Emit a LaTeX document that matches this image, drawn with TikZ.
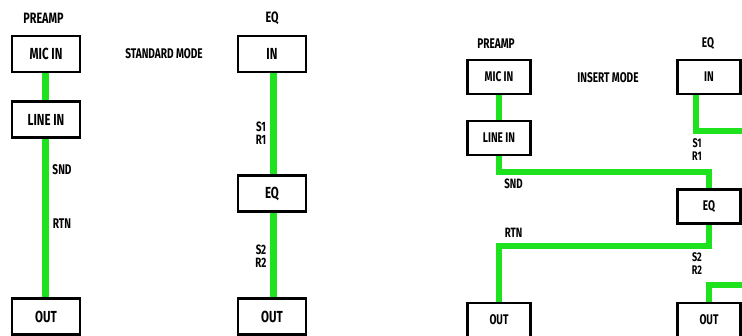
\documentclass[tikz,border=0pt]{standalone}
\usepackage{fontspec}
\setmainfont{Fira Sans}[FakeStretch=0.72]
\usetikzlibrary{calc,backgrounds}
\definecolor{cable}{RGB}{30,226,30}

\begin{document}
\begin{tikzpicture}[x=1pt,y=-1pt,
    box/.style={draw,line width=2.5pt,fill=white,inner sep=0pt,
                font=\bfseries\fontsize{#1}{#1}\selectfont},
    boxA/.style={box=16,minimum width=68pt,minimum height=36pt},
    boxB/.style={box=14,minimum width=63pt,minimum height=34pt},
    lbl/.style={inner sep=0pt,align=center,font=\bfseries\fontsize{#1}{13}\selectfont},
    wireA/.style={cable,line width=7pt},
    wireB/.style={cable,line width=6pt}]
  \useasboundingbox (0,0) rectangle (742,336);

  % standard mode
  \node[lbl=15] (preampA) at (43.5,18) {PREAMP};
  \node[lbl=15] (eqtitleA) at (272,18) {EQ};
  \node[lbl=14] (modeA) at (164,54) {STANDARD MODE};
  \node[lbl=14] (sndA) at (62,170) {SND};
  \node[lbl=14] (rtnA) at (62,224) {RTN};
  \node[lbl=13.5] (sraA) at (261,133) {S1\\R1};
  \node[lbl=13.5] (srbA) at (261,256.5) {S2\\R2};
  \node[boxA] (micA) at (46,54) {MIC IN};
  \node[boxA] (lineA) at (46,119.5) {LINE IN};
  \node[boxA] (outA) at (46,316.5) {OUT};
  \node[boxA] (eqinA) at (272,54) {IN};
  \node[boxA] (eqA) at (272,193.5) {EQ};
  \node[boxA] (eqoutA) at (272,316.5) {OUT};

  % insert mode
  \node[lbl=14] (preampB) at (496,44) {PREAMP};
  \node[lbl=14] (eqtitleB) at (708,44) {EQ};
  \node[lbl=14] (modeB) at (608,78) {INSERT MODE};
  \node[lbl=13.5] (sndB) at (513.5,184) {SND};
  \node[lbl=13.5] (rtnB) at (513.5,233) {RTN};
  \node[lbl=12.5] (sraB) at (697,150) {S1\\R1};
  \node[lbl=12.5] (srbB) at (697,264) {S2\\R2};
  \coordinate (edgeS) at (745,131);
  \coordinate (edgeR) at (745,285);
  \node[boxB] (micB) at (499,77) {MIC IN};
  \node[boxB] (lineB) at (499,138) {LINE IN};
  \node[boxB] (outB) at (499,320) {OUT};
  \node[boxB] (eqinB) at (709,77) {IN};
  \node[boxB] (eqB) at (709,206.5) {EQ};
  \node[boxB] (eqoutB) at (709,320) {OUT};

  \begin{scope}[on background layer]
    \draw[wireA] ([xshift=-1pt]micA.south) -- ([xshift=-1pt]lineA.north);
    \draw[wireA] ([xshift=-1pt]lineA.south) -- ([xshift=-1pt]outA.north);
    \draw[wireA] ([xshift=1pt]eqinA.south) -- ([xshift=1pt]eqA.north);
    \draw[wireA] ([xshift=1pt]eqA.south) -- ([xshift=1pt]eqoutA.north);
    \draw[wireB] (micB.south) -- (lineB.north);
    \draw[wireB] (lineB.south) -- ++(0,16) -| (eqB.north);
    \draw[wireB] (eqB.south) -- ++(0,21.5) -| (outB.north);
    \draw[wireB] ([xshift=-13pt]eqinB.south) |- (edgeS);
    \draw[wireB] (edgeR) -| (eqoutB.north);
  \end{scope}
\end{tikzpicture}
\end{document}
